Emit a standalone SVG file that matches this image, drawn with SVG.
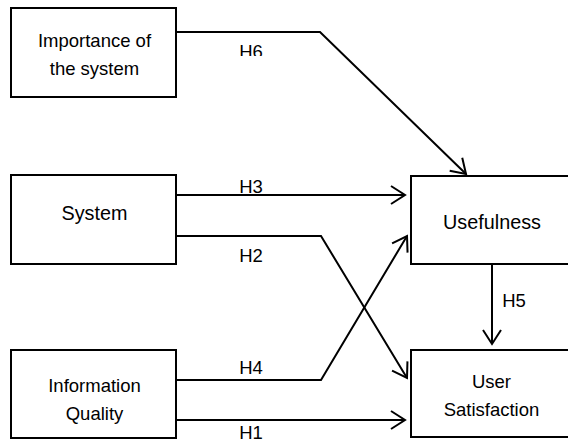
<svg xmlns="http://www.w3.org/2000/svg" width="568" height="440" viewBox="0 0 568 440">
<style>
.box{fill:#fff;stroke:#000;stroke-width:2}
.t{font-family:"Liberation Sans",Arial,sans-serif;fill:#000;text-anchor:middle}
.s18{font-size:18.5px}
.s20{font-size:19.8px}
.c{fill:none;stroke:#000;stroke-width:2;stroke-linejoin:miter}
</style>
<defs>
<marker id="arr" viewBox="-16 -12 20 24" markerWidth="20" markerHeight="24" refX="0" refY="0" orient="auto" markerUnits="userSpaceOnUse">
<path d="M-14,-9 L0,0 L-14,9" fill="none" stroke="#000" stroke-width="2"/>
</marker>
<clipPath id="clipH6"><rect x="220" y="35" width="60" height="21"/></clipPath>
<clipPath id="clipH3"><rect x="220" y="170" width="60" height="23"/></clipPath>
</defs>
<g id="importance">
<rect class="box" x="11" y="8" width="165" height="89"/>
<text class="t s18" x="94.5" y="47">Importance of</text>
<text class="t s18" x="94.5" y="75">the system</text>
</g>
<g id="system">
<rect class="box" x="11" y="175" width="165" height="89"/>
<text class="t s20" x="94.5" y="220">System</text>
</g>
<g id="information-quality">
<rect class="box" x="11" y="350" width="165" height="88"/>
<text class="t s18" x="94.5" y="392">Information</text>
<text class="t s18" x="94.5" y="420">Quality</text>
</g>
<g id="usefulness">
<rect class="box" x="411" y="176" width="170" height="88"/>
<text class="t s20" x="492" y="229">Usefulness</text>
</g>
<g id="user-satisfaction">
<rect class="box" x="411" y="350" width="170" height="87"/>
<text class="t s18" x="491.5" y="388">User</text>
<text class="t s18" x="491.5" y="416">Satisfaction</text>
</g>
<g id="connectors">
<polyline class="c" points="176,32 320,32 466,174" marker-end="url(#arr)"/>
<polyline class="c" points="176,195 405,195" marker-end="url(#arr)"/>
<polyline class="c" points="176,236 321,236 407,378" marker-end="url(#arr)"/>
<polyline class="c" points="176,380 321,380 407,236" marker-end="url(#arr)"/>
<polyline class="c" points="176,420 405,420" marker-end="url(#arr)"/>
<polyline class="c" points="492,265 492,344" marker-end="url(#arr)"/>
<text class="t s18" x="251" y="57.5" clip-path="url(#clipH6)">H6</text>
<text class="t s18" x="251" y="193" clip-path="url(#clipH3)">H3</text>
<text class="t s18" x="251" y="262">H2</text>
<text class="t s18" x="251" y="374">H4</text>
<text class="t s18" x="251" y="439">H1</text>
<text class="t s18" x="514" y="307">H5</text>
</g>
</svg>
